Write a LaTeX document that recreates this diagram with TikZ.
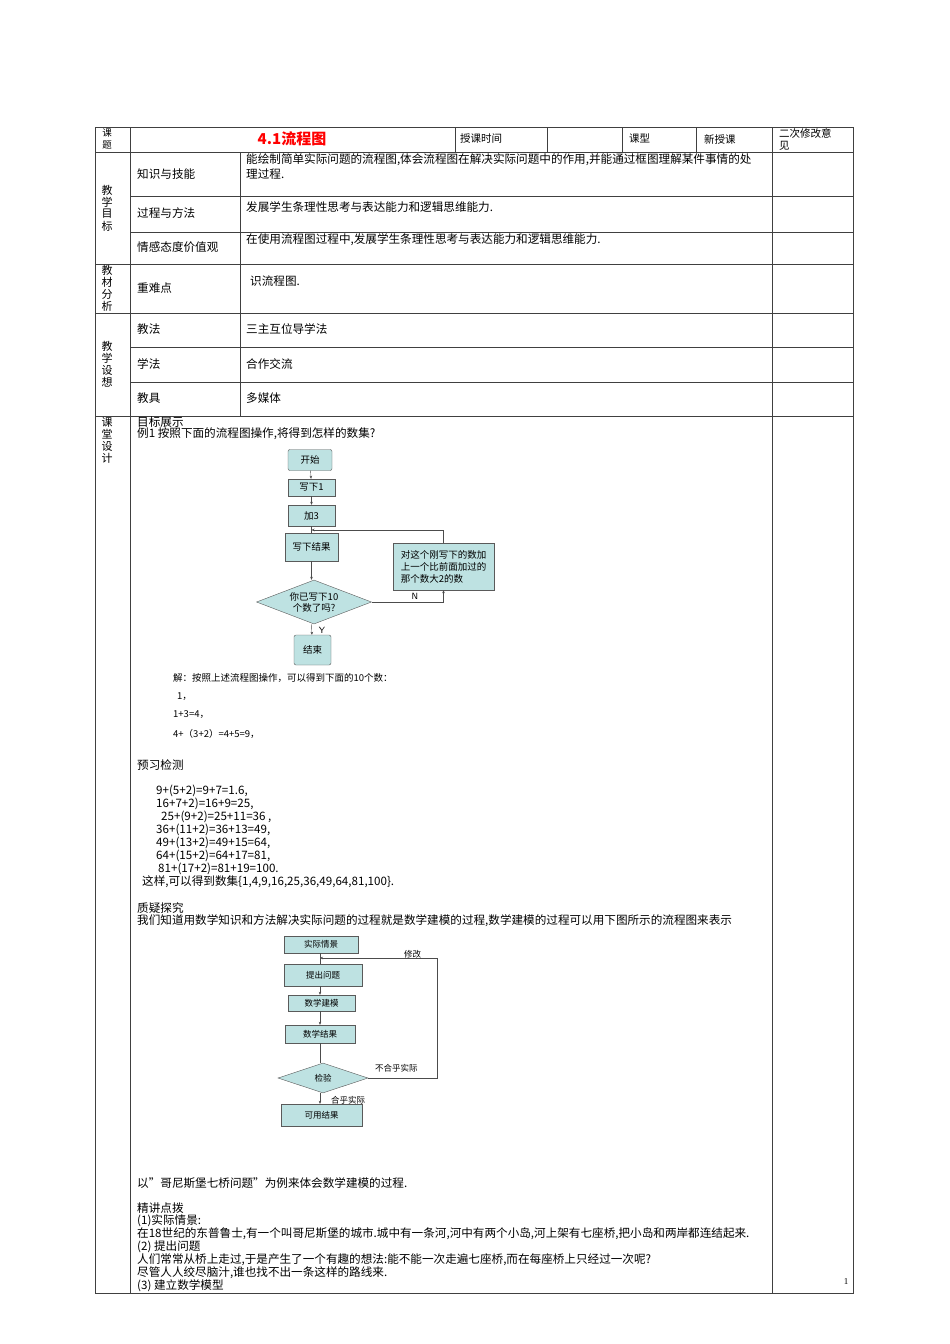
\documentclass[tikz,border=0pt]{standalone}
\usepackage{fontspec}
\setmainfont{Liberation Serif}
\newfontfamily\cjk{Noto Sans CJK SC}
\usetikzlibrary{shapes.geometric,arrows.meta}
\definecolor{teal1}{RGB}{190,226,226}
\definecolor{tl}{RGB}{90,90,90}
\tikzset{
 txt/.style={anchor=west,inner sep=0,font=\cjk\fontsize{11.6}{13}\selectfont},
 stxt/.style={anchor=west,inner sep=0,font=\cjk\fontsize{9.5}{10}\selectfont},
 vlab/.style={anchor=center,inner sep=0,font=\cjk\fontsize{11}{12}\selectfont},
 fbox/.style={draw=tl,fill=teal1,font=\cjk\fontsize{9.5}{11}\selectfont,inner sep=1pt,align=center},
 fdia/.style={draw=tl,fill=teal1,diamond,aspect=2.6,inner sep=0pt,font=\cjk\fontsize{9.5}{11}\selectfont,align=center},
 tab/.style={draw=black!75,line width=0.6pt},
 conn/.style={draw=black!70,-{Stealth[length=3pt,width=2.5pt]}},
 line/.style={draw=black!70}
}
\begin{document}
\begin{tikzpicture}[x=1pt,y=-1pt]
\useasboundingbox[fill=white] (0,0) rectangle (950,1344);
% table grid
\draw[tab] (95,127) rectangle (853,1293);
\foreach \x in {130,772}{\draw[tab] (\x,127) -- (\x,1293);}
\draw[tab] (240,152) -- (240,416);
\foreach \x in {455,547,622,696}{\draw[tab] (\x,127) -- (\x,152);}
\foreach \y in {152,264,313,416}{\draw[tab] (95,\y) -- (853,\y);}
\foreach \y in {196,232,347,382}{\draw[tab] (130,\y) -- (853,\y);}
% header row
\node[vlab,font=\cjk\fontsize{9.5}{10}\selectfont] (k1) at (107,133) {课};
\node[vlab,font=\cjk\fontsize{9.5}{10}\selectfont] (k2) at (107,145) {题};
\node[inner sep=0,text=red,font=\cjk\bfseries\fontsize{15}{16}\selectfont] (title) at (292,139) {4.1流程图};
\node[txt,font=\cjk\fontsize{10.5}{11}\selectfont] (t1) at (460,139) {授课时间};
\node[txt,font=\cjk\fontsize{10.5}{11}\selectfont] (t2) at (629,139) {课型};
\node[txt,font=\cjk\fontsize{10.5}{11}\selectfont] (t3) at (704,139) {新授课};
\node[txt,font=\cjk\fontsize{10.5}{11}\selectfont] (t4) at (779,133) {二次修改意};
\node[txt,font=\cjk\fontsize{10.5}{11}\selectfont] (t5) at (779,146) {见};
% left vertical labels
\foreach \c [count=\i] in {教,学,目,标}{\node[vlab] (va\i) at (107,178+12*\i) {\c};}
\foreach \c [count=\i] in {教,材,分,析}{\node[vlab] (vb\i) at (107,258+12*\i) {\c};}
\foreach \c [count=\i] in {教,学,设,想}{\node[vlab] (vc\i) at (107,334+12*\i) {\c};}
\foreach \c [count=\i] in {课,堂,设,计}{\node[vlab] (vd\i) at (107,410+12*\i) {\c};}
% rows
\node[txt] (r1) at (137,174) {知识与技能};
\node[txt] (r1a) at (246,160) {能绘制简单实际问题的流程图,体会流程图在解决实际问题中的作用,并能通过框图理解某件事情的处};
\node[txt] (r1b) at (246,174) {理过程.};
\node[txt] (r2) at (137,213) {过程与方法};
\node[txt] (r2a) at (246,207) {发展学生条理性思考与表达能力和逻辑思维能力.};
\node[txt] (r3) at (137,247) {情感态度价值观};
\node[txt] (r3a) at (246,240) {在使用流程图过程中,发展学生条理性思考与表达能力和逻辑思维能力.};
\node[txt] (r4) at (137,288) {重难点};
\node[txt] (r4a) at (250,281) {识流程图.};
\node[txt] (r5) at (137,329) {教法};
\node[txt] (r5a) at (246,329) {三主互位导学法};
\node[txt] (r6) at (137,364) {学法};
\node[txt] (r6a) at (246,364) {合作交流};
\node[txt] (r7) at (137,398) {教具};
\node[txt] (r7a) at (246,398) {多媒体};
% body
\node[txt] (b1) at (137,422) {目标展示};
\node[txt] (b2) at (137,434) {例1 按照下面的流程图操作,将得到怎样的数集?};
% flowchart 1
\node[fbox,rounded corners=2pt,minimum width=44pt,minimum height=21pt] (s) at (310,460) {开始};
\node[fbox,minimum width=47pt,minimum height=17pt] (w1) at (311.5,487.5) {写下1};
\node[fbox,minimum width=47pt,minimum height=21pt] (a3) at (311.5,515.5) {加3};
\node[fbox,minimum width=53pt,minimum height=28pt] (wr) at (311.5,547) {写下结果};
\node[fbox,minimum width=101pt,minimum height=47pt,font=\cjk\fontsize{9.5}{12}\selectfont,align=left] (rb) at (443.5,566.5) {对这个刚写下的数加\\上一个比前面加过的\\那个数大2的数};
\node[fdia,minimum width=115pt,minimum height=44pt] (d1) at (314,602) {你已写下10\\个数了吗?};
\node[fbox,rounded corners=2pt,minimum width=37pt,minimum height=30pt] (e1) at (312.5,650) {结束};
\coordinate (j1) at (311.5,530);
\draw[conn] (s) -- (w1);
\draw[conn] (w1) -- (a3);
\draw[line] (a3) -- (wr);
\draw[conn] (wr) -- (d1.north -| wr);
\draw[conn] (d1.south -| wr) -- (e1);
\draw[conn] (rb.north) |- (j1);
\draw[conn] (d1.east) -| node[pos=0.3,above=-1pt,font=\sffamily\fontsize{9}{9}\selectfont] (nl) {N} (rb.south);
\node[font=\sffamily\fontsize{9}{9}\selectfont,inner sep=0] (yl) at (322,630) {Y};
% solution
\node[stxt] (s1) at (173,678) {解：按照上述流程图操作，可以得到下面的10个数：};
\node[stxt] (s2) at (177,697) {1，};
\node[stxt] (s3) at (173,715) {1+3=4，};
\node[stxt] (s4) at (173,734) {4+（3+2）=4+5=9，};
\node[txt] (p0) at (137,765) {预习检测};
\node[txt] (p1) at (156,791) {9+(5+2)=9+7=1.6,};
\node[txt] (p2) at (156,804) {16+7+2)=16+9=25,};
\node[txt] (p3) at (161,817) {25+(9+2)=25+11=36 ,};
\node[txt] (p4) at (156,830) {36+(11+2)=36+13=49,};
\node[txt] (p5) at (156,843) {49+(13+2)=49+15=64,};
\node[txt] (p6) at (156,856) {64+(15+2)=64+17=81,};
\node[txt] (p7) at (158,869) {81+(17+2)=81+19=100.};
\node[txt] (p8) at (142,882) {这样,可以得到数集\{1,4,9,16,25,36,49,64,81,100\}.};
\node[txt] (q0) at (137,908) {质疑探究};
\node[txt] (q1) at (137,921) {我们知道用数学知识和方法解决实际问题的过程就是数学建模的过程,数学建模的过程可以用下图所示的流程图来表示};
% flowchart 2
\node[fbox,minimum width=74pt,minimum height=17pt,font=\cjk\fontsize{8.5}{9}\selectfont] (f1) at (321,944.5) {实际情景};
\node[fbox,minimum width=78pt,minimum height=22pt,font=\cjk\fontsize{8.5}{9}\selectfont] (f2) at (323,975) {提出问题};
\node[fbox,minimum width=67pt,minimum height=16pt,font=\cjk\fontsize{8.5}{9}\selectfont] (f3) at (321.5,1003) {数学建模};
\node[fbox,minimum width=70pt,minimum height=18pt,font=\cjk\fontsize{8.5}{9}\selectfont] (f4) at (320,1034) {数学结果};
\node[fdia,aspect=3,minimum width=90pt,minimum height=30pt,font=\cjk\fontsize{8.5}{9}\selectfont] (f5) at (323,1078) {检验};
\node[fbox,minimum width=81pt,minimum height=22pt,font=\cjk\fontsize{8.5}{9}\selectfont] (f6) at (321.5,1115) {可用结果};
\coordinate (j2) at (320,958);
\coordinate (c2) at (437,958);
\draw[line] (f1.south -| j2) -- (f2.north -| j2);
\draw[conn] (f2.south -| j2) -- (f3.north -| j2);
\draw[conn] (f3.south -| j2) -- (f4.north -| j2);
\draw[line] (f4.south -| j2) -- (f5.north -| j2);
\draw[conn] (f5.south -| j2) -- (f6.north -| j2);
\draw[conn] (f5.east) -| (c2) -- (j2);
\node[stxt,font=\cjk\fontsize{8.5}{9}\selectfont] (m1) at (404,954) {修改};
\node[stxt,font=\cjk\fontsize{8.5}{9}\selectfont] (m2) at (375,1068) {不合乎实际};
\node[stxt,font=\cjk\fontsize{8.5}{9}\selectfont] (m3) at (331,1100) {合乎实际};
% closing text
\node[txt] (x1) at (137,1183) {以”哥尼斯堡七桥问题”为例来体会数学建模的过程.};
\node[txt] (x2) at (137,1208) {精讲点拨};
\node[txt] (x3) at (137,1221) {(1)实际情景:};
\node[txt] (x4) at (137,1234) {在18世纪的东普鲁士,有一个叫哥尼斯堡的城市.城中有一条河,河中有两个小岛,河上架有七座桥,把小岛和两岸都连结起来.};
\node[txt] (x5) at (137,1247) {(2) 提出问题};
\node[txt] (x6) at (137,1260) {人们常常从桥上走过,于是产生了一个有趣的想法:能不能一次走遍七座桥,而在每座桥上只经过一次呢?};
\node[txt] (x7) at (137,1273) {尽管人人绞尽脑汁,谁也找不出一条这样的路线来.};
\node[txt] (x8) at (137,1286) {(3) 建立数学模型};
\node[inner sep=0,font=\fontsize{9}{9}\selectfont] (pg) at (846,1282) {1};
\end{tikzpicture}
\end{document}
